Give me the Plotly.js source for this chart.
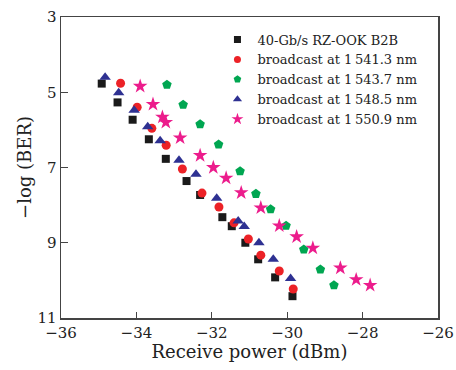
<!DOCTYPE html>
<html>
<head>
<meta charset="utf-8">
<script src="https://cdn.plot.ly/plotly-3.0.1.min.js"></script>
<style>html,body{margin:0;padding:0;background:#fff;}#chart{width:456px;height:370px;}</style>
</head>
<body>
<div id="chart"></div>
<script>
// Series names
const seriesNames = [
  "40-Gb/s RZ-OOK B2B",
  "broadcast at 1\u2009541.3 nm",
  "broadcast at 1\u2009543.7 nm",
  "broadcast at 1\u2009548.5 nm",
  "broadcast at 1\u2009550.9 nm"
];

// Receive power (dBm) and -log(BER) for each series
const b2bX = [-34.92, -34.50, -34.10, -33.67, -33.22, -32.67, -32.31, -31.72, -31.47, -31.11, -30.77, -30.32, -29.86];
const b2bY = [4.77, 5.27, 5.73, 6.25, 6.77, 7.36, 7.73, 8.32, 8.56, 9.00, 9.44, 9.92, 10.42];

const ch1X = [-34.42, -33.98, -33.59, -33.21, -32.78, -32.26, -31.81, -31.41, -31.03, -30.70, -30.21, -29.84];
const ch1Y = [4.76, 5.40, 5.96, 6.41, 7.04, 7.68, 8.05, 8.47, 8.90, 9.33, 9.75, 10.23];

const ch2X = [-33.19, -32.76, -32.31, -31.82, -31.25, -30.83, -30.44, -30.03, -29.56, -29.12, -28.76];
const ch2Y = [4.80, 5.33, 5.85, 6.39, 7.10, 7.70, 8.11, 8.55, 9.18, 9.71, 10.13];

const ch3X = [-34.83, -34.47, -34.06, -33.70, -33.37, -32.87, -32.42, -31.87, -31.30, -31.14, -30.75, -30.37, -29.91];
const ch3Y = [4.60, 5.01, 5.48, 5.92, 6.29, 6.81, 7.18, 7.82, 8.42, 8.57, 9.00, 9.44, 9.95];

const ch4X = [-33.90, -33.56, -33.31, -33.22, -32.84, -32.31, -31.96, -31.62, -31.22, -30.70, -30.21, -29.75, -29.32, -28.59, -28.17, -27.80];
const ch4Y = [4.84, 5.32, 5.66, 5.80, 6.21, 6.68, 7.00, 7.28, 7.67, 8.07, 8.55, 8.84, 9.14, 9.67, 9.98, 10.13];

const xTickVals = [-36, -34, -32, -30, -28, -26];
const xTickText = ["\u221236", "\u221234", "\u221232", "\u221230", "\u221228", "\u221226"];
const yTickVals = [3, 5, 7, 9, 11];

const colors = ["#1a1a1a", "#ec2227", "#00a651", "#2e3192", "#ec1c8c"];
const symbols = ["square", "circle", "pentagon", "triangle-up", "star"];
const sizes = [8, 9, 10, 10, 11];
const legendSizes = [7, 7, 8, 8, 9];
const xs = [b2bX, ch1X, ch2X, ch3X, ch4X];
const ys = [b2bY, ch1Y, ch2Y, ch3Y, ch4Y];

const FONT = "DejaVu Serif, Liberation Serif, serif";

const dataTraces = seriesNames.map((name, i) => ({
  type: "scatter",
  mode: "markers",
  name: name,
  legendgroup: "g" + i,
  showlegend: false,
  x: xs[i],
  y: ys[i],
  marker: {symbol: symbols[i], size: sizes[i], color: colors[i], line: {width: 0}}
}));

// legend-only entries with the smaller key symbols of the reference
const keyTraces = seriesNames.map((name, i) => ({
  type: "scatter",
  mode: "markers",
  name: name,
  legendgroup: "g" + i,
  showlegend: true,
  x: [null],
  y: [null],
  marker: {symbol: symbols[i], size: legendSizes[i], color: colors[i], line: {width: 0}}
}));

const layout = {
  width: 456,
  height: 370,
  margin: {l: 61, r: 18, t: 17, b: 52},
  paper_bgcolor: "#fff",
  plot_bgcolor: "#fff",
  font: {family: FONT, color: "#222", size: 15},
  showlegend: true,
  legend: {
    x: 0.415, y: 0.975, xanchor: "left", yanchor: "top",
    bgcolor: "rgba(0,0,0,0)", borderwidth: 0,
    font: {family: FONT, size: 13, color: "#222"},
    itemwidth: 30, tracegroupgap: 0
  },
  xaxis: {
    range: [-36, -26],
    tickvals: xTickVals,
    ticktext: xTickText,
    ticks: "inside", ticklen: 6, tickwidth: 1.2, tickcolor: "#444",
    showline: true, linecolor: "#444", linewidth: 1.5, mirror: true,
    showgrid: false, zeroline: false,
    tickfont: {family: FONT, size: 15, color: "#222"},
    title: {text: "Receive power (dBm)", font: {family: FONT, size: 18, color: "#222"}, standoff: 3}
  },
  yaxis: {
    range: [11, 3],
    tickvals: yTickVals,
    ticks: "inside", ticklen: 7, tickwidth: 1.2, tickcolor: "#444",
    showline: true, linecolor: "#444", linewidth: 1.5, mirror: true,
    showgrid: false, zeroline: false,
    tickfont: {family: FONT, size: 15, color: "#222"},
    title: {text: "\u2212log (BER)", font: {family: FONT, size: 18, color: "#222"}, standoff: 1}
  }
};

Plotly.newPlot("chart", dataTraces.concat(keyTraces), layout, {displayModeBar: false, staticPlot: true});
</script>
</body>
</html>
